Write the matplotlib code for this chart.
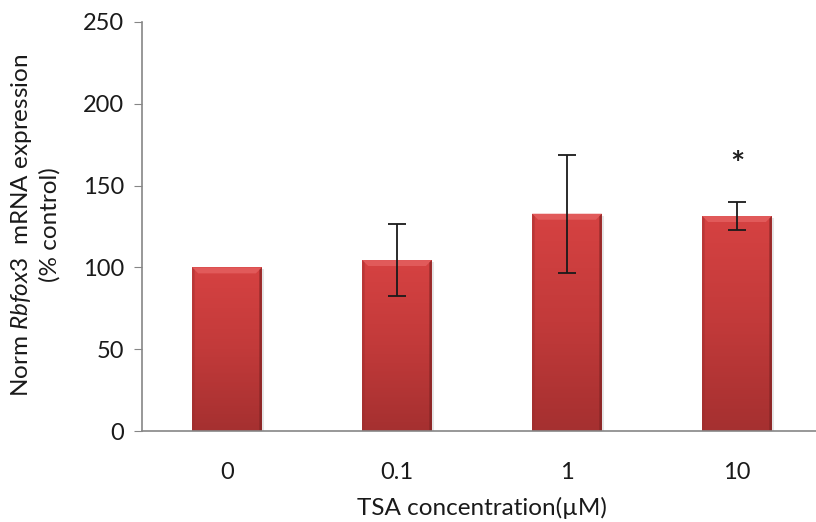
import numpy as np
import matplotlib
matplotlib.use("Agg")
import matplotlib.pyplot as plt
from matplotlib.colors import LinearSegmentedColormap
from matplotlib.patches import Polygon, Rectangle

categories = ["0", "0.1", "1", "10"]
means = [100, 104.5, 132.8, 131.4]
errors = [0, 22, 36, 8.6]
significant = [False, False, False, True]
y_ticks = [0, 50, 100, 150, 200, 250]

plt.rcParams['font.family'] = ['Lato', 'DejaVu Sans']
plt.rcParams['mathtext.fontset'] = 'custom'
plt.rcParams['mathtext.rm'] = 'Lato'
plt.rcParams['mathtext.it'] = 'Lato:italic'

fig = plt.figure(figsize=(8.16, 5.22), dpi=100)
ax = fig.add_axes([142 / 816, 91 / 522, 680 / 816, 409 / 522])

x = np.arange(len(categories))
width = 0.41
# dark at the bottom, lighter toward the top
grad_cmap = LinearSegmentedColormap.from_list(
    "bar", ["#A53030", "#C23A3A", "#D64242"])

bars = ax.bar(x, means, width=width, color="#C63B3B", zorder=2, linewidth=0)
px_y = 250 / 409  # data units per pixel (y)
px_x = 4 / 680    # data units per pixel (x)
for rect, h in zip(bars, means):
    x0 = rect.get_x()
    x1 = x0 + rect.get_width()
    # soft drop shadow
    ax.add_patch(Rectangle((x0 + 2 * px_x, 0), x1 - x0, h - 2 * px_y,
                           facecolor="#000000", alpha=0.10, zorder=1.5, lw=0))
    grad = np.linspace(0, 1, 256).reshape(-1, 1)
    im = ax.imshow(grad, extent=[x0, x1, 0, h], origin='lower', aspect='auto',
                   cmap=grad_cmap, zorder=2.1, interpolation='bilinear')
    im.set_clip_path(rect)
    # bevel: light top, darker sides
    b = 6
    s = 2.5
    ax.add_patch(Polygon([(x0, h), (x1, h), (x1 - b * px_x, h - b * px_y),
                          (x0 + b * px_x, h - b * px_y)],
                         closed=True, facecolor="#E15A5A", lw=0, zorder=2.2))
    ax.add_patch(Polygon([(x0, h), (x0 + s * px_x, h - s * px_y),
                          (x0 + s * px_x, 0), (x0, 0)],
                         closed=True, facecolor="#9A2C2C", alpha=0.45, lw=0, zorder=2.2))
    ax.add_patch(Polygon([(x1, h), (x1 - s * px_x, h - s * px_y),
                          (x1 - s * px_x, 0), (x1, 0)],
                         closed=True, facecolor="#7E2222", alpha=0.7, lw=0, zorder=2.2))

for xi, m, e in zip(x, means, errors):
    if e > 0:
        ax.errorbar(xi, m, yerr=e, fmt='none', ecolor="#1a1a1a",
                    elinewidth=1.3, capsize=6.5, capthick=1.3, zorder=3)

for xi, m, e, s in zip(x, means, errors, significant):
    if s:
        ax.text(xi, m + e + 22, "*", ha='center', va='center',
                fontsize=24, color="#222222", fontweight='bold')

ax.set_xlim(-0.5, 3.5)
ax.set_ylim(0, 250)
ax.set_yticks(y_ticks)
ax.set_xticks(x)
ax.set_xticklabels(categories)
ax.tick_params(axis='y', direction='out', length=6, color="#868686",
               labelsize=17, pad=7, labelcolor="#1a1a1a")
ax.tick_params(axis='x', length=0, labelsize=17, pad=22, labelcolor="#1a1a1a")
for side in ('top', 'right'):
    ax.spines[side].set_visible(False)
for side in ('left', 'bottom'):
    ax.spines[side].set_color("#868686")
    ax.spines[side].set_linewidth(1.2)

ax.set_xlabel("TSA concentration(µM)", fontsize=17.5, labelpad=10, color="#1a1a1a")
fig.text(22 / 816, 1 - 225 / 522, r"Norm $\it{Rbfox3}$  mRNA expression",
         rotation=90, ha='center', va='center', fontsize=17.5, color="#1a1a1a")
fig.text(50 / 816, 1 - 225 / 522, "(% control)",
         rotation=90, ha='center', va='center', fontsize=17.5, color="#1a1a1a")

fig.savefig("out.png", dpi=100)
